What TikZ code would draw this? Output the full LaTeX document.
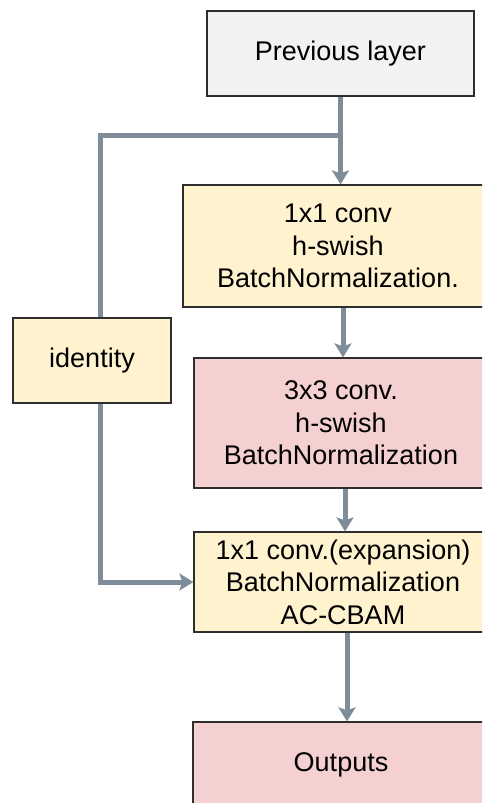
\documentclass[tikz,border=0pt]{standalone}
\usepackage{fontspec}
\setmainfont{Liberation Sans}
\usetikzlibrary{arrows.meta,calc}
\definecolor{linec}{HTML}{7E8D99}
\definecolor{yelfill}{HTML}{FFF3CF}
\definecolor{pinkfill}{HTML}{F5D0D0}
\definecolor{grayfill}{HTML}{F2F2F2}
\definecolor{bordc}{HTML}{2E2E2E}
\tikzset{
  box/.style={draw=bordc, line width=1.2pt, rectangle, align=center, inner sep=0pt,
    font=\fontsize{27}{32.5}\selectfont},
  conn/.style={draw=linec, line width=5pt},
  arr/.style={conn, -{Stealth[width=17pt,length=14pt,inset=3pt]}}
}
\begin{document}
\begin{tikzpicture}[x=1pt,y=-1pt]
\useasboundingbox (0,0) rectangle (482,803);
\clip (0,0) rectangle (482,803);
\fill[white] (0,0) rectangle (482,803);
\node[box, fill=grayfill, minimum width=267pt, minimum height=85pt] (prev) at (340.5,53.5) {Previous layer};
\node[box, fill=yelfill, minimum width=310pt, minimum height=122pt] (b1) at (338,246) {1x1 conv\\h-swish\\BatchNormalization.};
\node[box, fill=yelfill, minimum width=158pt, minimum height=85pt] (id) at (92,360.5) {identity};
\node[box, fill=pinkfill, minimum width=294pt, minimum height=130pt] (b2) at (341,423) {3x3 conv.\\h-swish\\BatchNormalization};
\node[box, fill=yelfill, minimum width=298pt, minimum height=100pt] (b3) at (343,582) {1x1 conv.(expansion)\\BatchNormalization\\AC-CBAM};
\node[box, fill=pinkfill, minimum width=296pt, minimum height=86pt] (out) at (341,765) {Outputs};
\coordinate (j) at (340.5,135);
\coordinate (c) at (100,135);
\coordinate (ax) at (343,0);
\draw[arr] (prev.south) -- (prev.south |- b1.north);
\draw[conn, line join=miter] (j) -- (c) -- (c |- id.north);
\draw[arr, line join=miter] (c |- id.south) -- (c |- b3.west) -- (b3.west);
\draw[arr] (ax |- b1.south) -- (ax |- b2.north);
\draw[arr] ([xshift=2pt]ax |- b2.south) -- ([xshift=2pt]ax |- b3.north);
\draw[arr] ([xshift=4pt]ax |- b3.south) -- ([xshift=4pt]ax |- out.north);
\end{tikzpicture}
\end{document}
